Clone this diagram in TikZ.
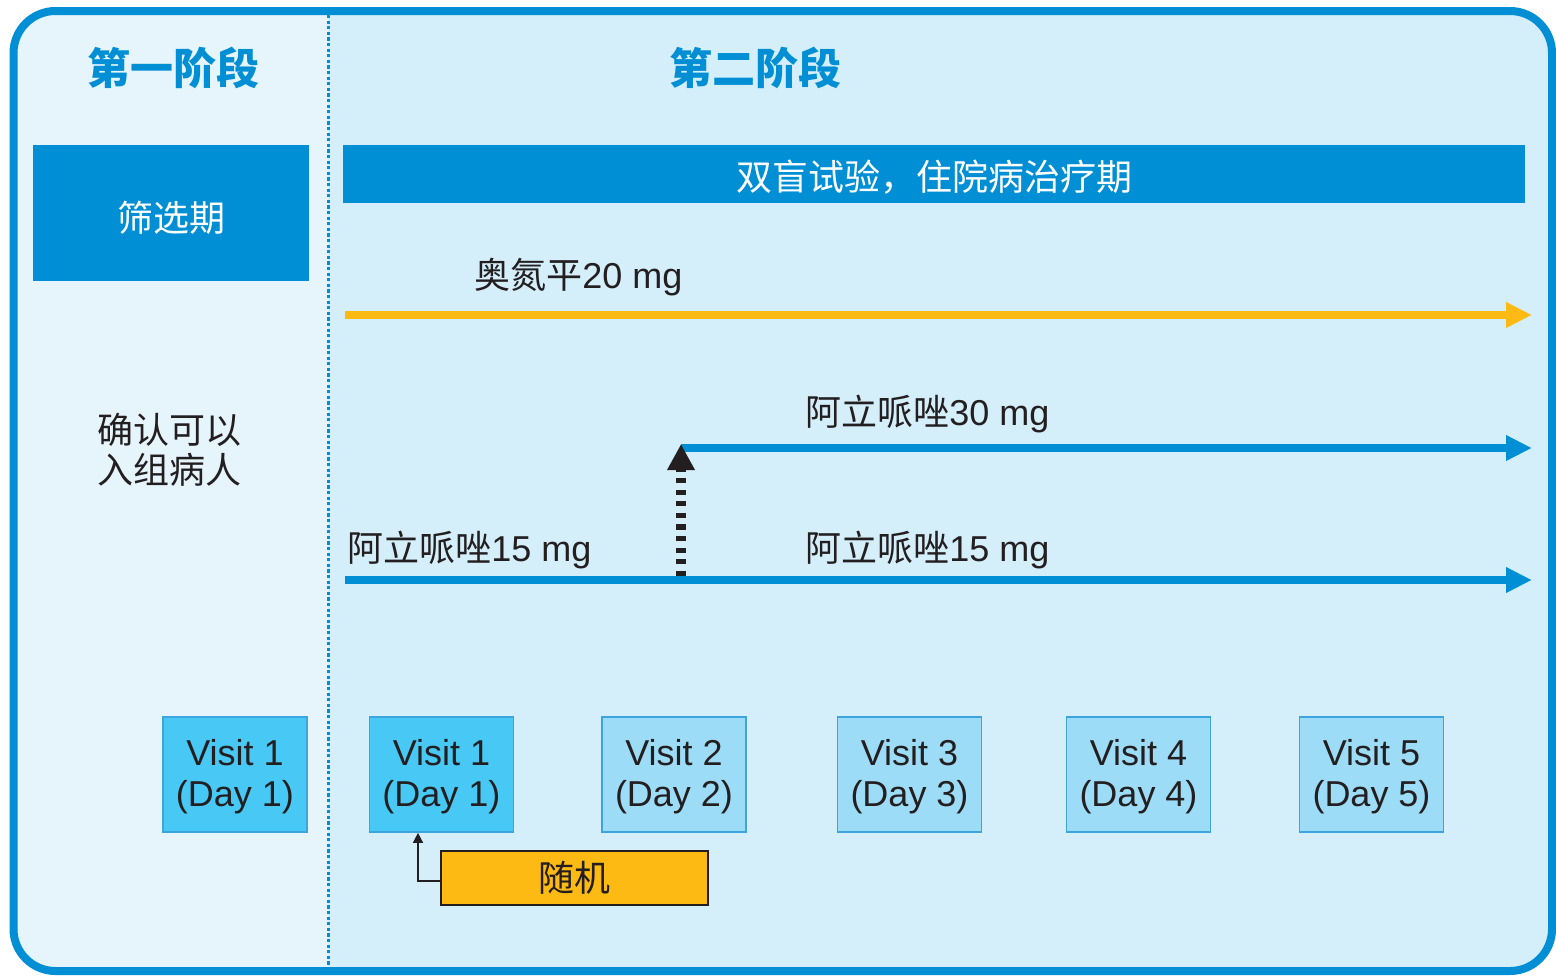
\documentclass[tikz,border=0pt]{standalone}
\usepackage{fontspec}
\setmainfont{Liberation Sans}
\newfontfamily\cjk{Noto Sans CJK SC}
\usetikzlibrary{arrows.meta}
\definecolor{mainblue}{RGB}{0,143,213}
\definecolor{leftbg}{RGB}{230,244,252}
\definecolor{rightbg}{RGB}{212,238,250}
\definecolor{goldline}{RGB}{253,186,18}
\definecolor{cyanbox}{RGB}{71,200,245}
\definecolor{lightbox}{RGB}{157,220,247}
\definecolor{boxedge}{RGB}{60,165,222}
\definecolor{txt}{RGB}{35,31,32}
\tikzset{
  x=0.5pt, y=-0.5pt,
  header/.style={font=\cjk\bfseries\fontsize{21.5pt}{24pt}\selectfont, text=mainblue},
  bluebar/.style={rectangle, fill=mainblue, inner sep=0pt},
  bartext/.style={text=white, inner sep=0pt, font=\cjk\fontsize{18pt}{21pt}\selectfont},
  visitbox/.style={rectangle, draw=boxedge, line width=0.8pt, minimum width=72pt,
     minimum height=57.5pt, inner sep=0pt},
  visittext/.style={align=center, text=txt, inner sep=0pt, yshift=-1pt,
     font=\fontsize{18pt}{20.5pt}\selectfont},
  visitA/.style={visitbox, fill=cyanbox},
  visitB/.style={visitbox, fill=lightbox},
  druglabel/.style={anchor=west, inner sep=0pt, text=txt, font=\fontsize{18pt}{20pt}\selectfont},
  drugline/.style={line width=4pt, -{Triangle[length=13pt,width=12pt]}},
}
\begin{document}
\begin{tikzpicture}
\useasboundingbox (0,0) rectangle (1556,975);
\begin{scope}
  \clip[rounded corners=21pt] (13.5,11) rectangle (1552,971);
  \fill[rightbg] (0,0) rectangle (1556,975);
  \fill[leftbg] (0,0) rectangle (328,975);
\end{scope}
\draw[mainblue, line width=4pt, rounded corners=21pt] (13.5,11) rectangle (1552,971);
\coordinate (dtop) at (328,15);
\coordinate (dbot) at (328,968);
\draw[mainblue, line width=1.5pt, dash pattern=on 1.6pt off 1.2pt] (dtop) -- (dbot);

\node[header] (h1) at (173,68) {第一阶段};
\node[header] (h2) at (755,68) {第二阶段};

\node[bluebar, minimum width=138pt, minimum height=68pt,
  label={[bartext, yshift=-2.5pt]center:筛选期}] (screen) at (171,213) {};
\node[bluebar, minimum width=591pt, minimum height=29pt,
  label={[bartext, yshift=-1.5pt]center:双盲试验，住院病治疗期}] (bar) at (934,174) {};

\node[anchor=center, align=center, text=txt, font=\cjk\fontsize{18pt}{20pt}\selectfont] (confirm) at (169,450) {确认可以\\入组病人};

% olanzapine
\coordinate (o1) at (345,315);
\coordinate (o2) at (1532,315);
\draw[drugline, goldline] (o1) -- (o2);
\node[druglabel] (olab) at (474,277) {{\cjk 奥氮平}20 mg};

% aripiprazole 30
\coordinate (a30s) at (681,448);
\coordinate (a30e) at (1532,448);
\draw[drugline, mainblue] (a30s) -- (a30e);
\node[druglabel] (a30lab) at (805,414) {{\cjk 阿立哌唑}30 mg};

% aripiprazole 15
\coordinate (a15s) at (345,580);
\coordinate (a15e) at (1532,580);
\draw[drugline, mainblue] (a15s) -- (a15e);
\node[druglabel] (a15lab1) at (347,550) {{\cjk 阿立哌唑}15 mg};
\node[druglabel] (a15lab2) at (805,550) {{\cjk 阿立哌唑}15 mg};

% dose escalation dashed arrow
\coordinate (up1) at (681,576);
\coordinate (up2) at (681,444);
\draw[txt, line width=5pt, dash pattern=on 2.6pt off 3.2pt, -{Triangle[length=13pt,width=13pt,sep=0pt]}] (up1) -- (up2);

% visits
\node[visitA, label={[visittext]center:Visit 1\\(Day 1)}] (v0) at (235,774.5) {};
\node[visitA, label={[visittext]center:Visit 1\\(Day 1)}] (v1) at (441.5,774.5) {};
\node[visitB, label={[visittext]center:Visit 2\\(Day 2)}] (v2) at (674,774.5) {};
\node[visitB, label={[visittext]center:Visit 3\\(Day 3)}] (v3) at (909.5,774.5) {};
\node[visitB, label={[visittext]center:Visit 4\\(Day 4)}] (v4) at (1138.5,774.5) {};
\node[visitB, label={[visittext]center:Visit 5\\(Day 5)}] (v5) at (1371.5,774.5) {};

\node[rectangle, draw=txt, line width=0.9pt, fill=goldline, minimum width=133.5pt, minimum height=27pt,
  inner sep=0pt, text=txt, font=\cjk\fontsize{18pt}{20pt}\selectfont] (rand) at (574.5,878) {随机};
\coordinate (rbend) at (418,881);
\draw[txt, line width=0.7pt, -{Triangle[length=5pt,width=5pt]}] (rand.west |- rbend) -- (rbend) -- (rbend |- v1.south);
\end{tikzpicture}
\end{document}
